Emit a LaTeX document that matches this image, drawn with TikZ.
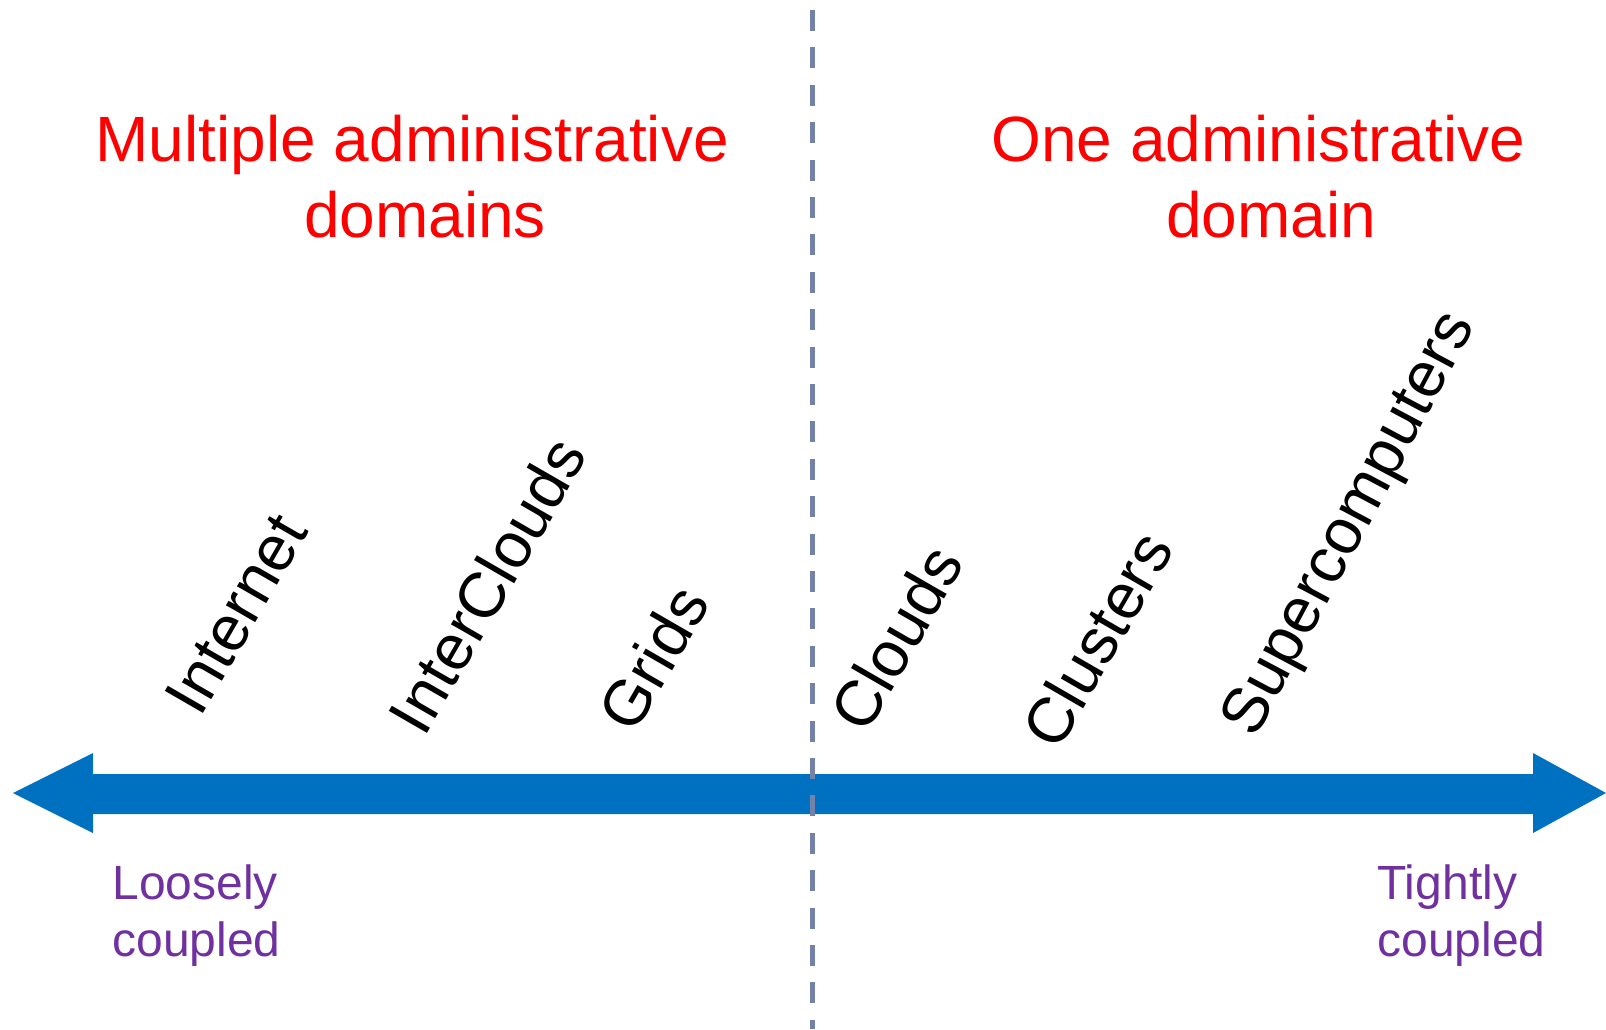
\documentclass[tikz,border=0pt]{standalone}
\usepackage{fontspec}
\setmainfont{Liberation Sans}
\definecolor{arrowblue}{RGB}{0,112,192}
\definecolor{dashgray}{RGB}{116,130,170}
\definecolor{couplepurple}{RGB}{112,48,160}
\begin{document}
\begin{tikzpicture}[x=0.5pt,y=-0.5pt,
  title/.style={text=red, font={\fontsize{32pt}{38pt}\selectfont}, align=center, inner sep=0pt, anchor=center},
  kind/.style={text=black, font={\fontsize{32pt}{38pt}\selectfont}, rotate=60, inner sep=0pt, anchor=center},
  coupling/.style={text=couplepurple, font={\fontsize{24pt}{28.5pt}\selectfont}, align=left, inner sep=0pt, anchor=north west}]
\useasboundingbox (0,0) rectangle (1606,1029);
% double-headed block arrow
\fill[arrowblue] (13,793) -- (93,753) -- (93,774) -- (1533,774) -- (1533,753) -- (1606,793)
  -- (1533,833) -- (1533,814) -- (93,814) -- (93,833) -- cycle;
% divider
\coordinate (divtop) at (812.5,10);
\coordinate (divbot) at (812.5,1029);
\draw[dashgray, line width=2.5pt, dash pattern=on 10.5pt off 8.2pt] (divtop) -- (divbot);
% titles
\node[title] (multi) at (425,177) {Multiple administrative\hspace*{0.4em}\\domains};
\node[title] (one) at (1271,177) {One administrative\hspace*{0.4em}\\domain};
% rotated labels
\node[kind] (internet) at (236,614) {Internet};
\node[kind] (interclouds) at (487,585) {InterClouds};
\node[kind] (grids) at (653,658) {Grids};
\node[kind] (clouds) at (896,638) {Clouds};
\node[kind] (clusters) at (1097,639) {Clusters};
\node[kind, rotate=2] (super) at (1351.5,525) {Supercomputers};
% coupling labels
\node[coupling] (loose) at (112,864.5) {Loosely\\coupled};
\node[coupling] (tight) at (1377,864.5) {Tightly\\coupled};
\end{tikzpicture}
\end{document}
